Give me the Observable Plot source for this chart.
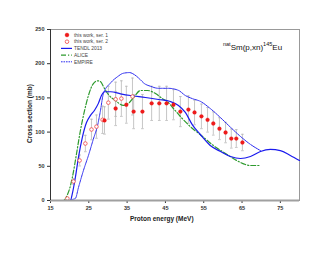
<!DOCTYPE html>
<html><head><meta charset="utf-8">
<script src="https://cdn.jsdelivr.net/npm/d3@7"></script>
<script src="https://cdn.jsdelivr.net/npm/@observablehq/plot@0.6"></script>
<style>
body{margin:0;background:#fff;font-family:"Liberation Sans",Arial,sans-serif;}
#wrap{position:relative;width:330px;height:255px;}
.lab{position:absolute;font-weight:bold;color:#222;white-space:nowrap;}
</style></head>
<body><div id="wrap"></div>
<script>
// Series 1 (filled)
const ser1E = [29.1,32.0,34.8,36.7,39.0,41.4,43.4,45.3,47.1,48.9,51.0,52.6,54.4,56.0,57.5,59.1,60.7,62.2,63.5,65.1];
const ser1S = [117,134.5,140,130,130,142,142,142,140,130,133,128.7,123,118,112.6,105,99.4,90.6,90.6,84.8];
const ser1Err = [20,25,27,25,25,25,25,25,22,22,20,18,18,18,17,16,15,14,13,12];
// Series 2 (open)
const ser2E = [19.4,21.0,22.6,24.1,25.7,27.0,28.6,30.1,32.0,33.5,36.4];
const ser2S = [3,27.8,58.5,83.3,103.8,108,118,143,148,149,152];
const ser2Err = [1,4,8,12,15,17,20,24,25,26,27];
// TENDL 2013
const tendlE = [15,18.1,20.2,20.7,21.5,22.3,23.3,24.4,25.4,26.5,27.5,28.3,29.1,30.7,33.3,35.9,39.8,43.2,46.3,48.4,50.2,52.0,54.1,56.7,59.4,62.0,64.6,67.2,69.8,72.4,75.0,77.6,80];
const tendlS = [0,0,0,10,34,63,92,114,124,132,142,153.5,159,159,156,153.5,150.6,147.7,144.7,139,128.7,111,96.5,80.4,71.6,64.3,61.4,64.3,71.6,74.6,73,65.8,58.5];
// ALICE
const aliceE = [15,18.4,19.2,20.0,20.7,21.8,22.8,23.9,24.9,26.2,27.3,28.0,29.1,30.1,32.0,34.0,35.3,36.7,38.5,40.3,42.4,44.2,45.5,47.1,48.9,51.5,54.7,57.5,60.7,62.7,64.6,65.9,67.2,69.8];
const aliceS = [0,0,6,17.5,33.6,68.7,102,131.6,153.5,171,175,174,163.7,155,146,139,141.8,150.6,160.8,160.8,156.4,149,144.7,134.5,122.8,108,93.6,80.4,68.7,61.4,55.6,52.6,51.2,51.2];
// EMPIRE
const empireE = [15,19.4,20.7,21.5,22.3,23.6,24.9,26.2,27.3,28.0,28.8,30.7,32.5,34.0,35.6,36.9,38.2,39.5,41.1,43.2,45.8,48.4,50.2,52.0,54.1,56.7,59.4,62.0,64.6,67.2,69.8];
const empireS = [0,0,1.5,3,19,43.9,65.8,90,110,130,156,172,181,186,187,184,178,171,167,164,164,161,153.5,149,145,134.5,121,107,93.6,82,73];
// ticks
const xTicks = [15,25,35,45,55,65,75];
const yTicks = [0,50,100,150,200,250];

const s1 = ser1E.map((e,i)=>({e, s:ser1S[i], d:ser1Err[i]}));
const s2 = ser2E.map((e,i)=>({e, s:ser2S[i], d:ser2Err[i]}));
const tendl = tendlE.map((e,i)=>({e, s:tendlS[i]}));
const alice = aliceE.map((e,i)=>({e, s:aliceS[i]}));
const empire = empireE.map((e,i)=>({e, s:empireS[i]}));
const allPts = s1.concat(s2);

const chart = Plot.plot({
  width: 330, height: 255,
  marginLeft: 50, marginRight: 31, marginTop: 29, marginBottom: 55,
  style: {fontFamily: "Liberation Sans, Arial, sans-serif", fontSize: "5.5px", fontWeight: "bold", color: "#333", background: "#fff"},
  x: {domain: [15, 80], ticks: xTicks, tickSize: 3, label: null, tickPadding: 3},
  y: {domain: [0, 250], ticks: yTicks, tickSize: 3, label: null, tickPadding: 3},
  marks: [
    Plot.frame({stroke: "#999", strokeWidth: 1}),
    Plot.ruleX(allPts, {x: "e", y1: d => d.s - d.d, y2: d => d.s + d.d, stroke: "#b8b8b8", strokeWidth: 0.8}),
    Plot.link(allPts, {x1: d => d.e - 0.35, x2: d => d.e + 0.35, y1: d => d.s - d.d, y2: d => d.s - d.d, stroke: "#b8b8b8", strokeWidth: 0.8}),
    Plot.link(allPts, {x1: d => d.e - 0.35, x2: d => d.e + 0.35, y1: d => d.s + d.d, y2: d => d.s + d.d, stroke: "#b8b8b8", strokeWidth: 0.8}),
    Plot.line(alice, {x: "e", y: "s", stroke: "#2e9a2e", strokeWidth: 1.2, strokeDasharray: "5,2,1.2,2", curve: "monotone-x"}),
    Plot.line(empire, {x: "e", y: "s", stroke: "#2a2af0", strokeWidth: 1, strokeDasharray: "1.6,0.9", curve: "monotone-x"}),
    Plot.line(tendl, {x: "e", y: "s", stroke: "#1a1aee", strokeWidth: 1.2, curve: "monotone-x"}),
    Plot.dot(s2, {x: "e", y: "s", r: 1.8, stroke: "#f04848", fill: "#fff", strokeWidth: 0.8}),
    Plot.dot(s1, {x: "e", y: "s", r: 1.9, fill: "#ee1a1a", stroke: "#ee1a1a", strokeWidth: 0.3}),
    Plot.ruleY([0], {stroke: "#a0a0a0", strokeWidth: 2}),
    Plot.ruleX([15], {stroke: "#333", strokeWidth: 1})
  ]
});
const wrap = document.getElementById("wrap");
wrap.appendChild(chart);

// legend
const ns = "http://www.w3.org/2000/svg";
const leg = document.createElementNS(ns, "svg");
leg.setAttribute("width", 70); leg.setAttribute("height", 40);
leg.style.position = "absolute"; leg.style.left = "58px"; leg.style.top = "30px";
const items = [
  {label: "this work, ser. 1", kind: "fill"},
  {label: "this work, ser. 2", kind: "open"},
  {label: "TENDL 2013", kind: "line", stroke: "#1a1aee", dash: null, w: 1.2},
  {label: "ALICE", kind: "line", stroke: "#2e9a2e", dash: "5,2,1.2,2", w: 1.2},
  {label: "EMPIRE", kind: "line", stroke: "#2a2af0", dash: "1.6,0.9", w: 1}
];
items.forEach((it, i) => {
  const y = 5 + i * 6.7;
  if (it.kind === "line") {
    const l = document.createElementNS(ns, "line");
    l.setAttribute("x1", 3); l.setAttribute("x2", 14); l.setAttribute("y1", y); l.setAttribute("y2", y);
    l.setAttribute("stroke", it.stroke); l.setAttribute("stroke-width", it.w);
    if (it.dash) l.setAttribute("stroke-dasharray", it.dash);
    leg.appendChild(l);
  } else {
    const c = document.createElementNS(ns, "circle");
    c.setAttribute("cx", 9); c.setAttribute("cy", y); c.setAttribute("r", 1.8);
    c.setAttribute("fill", it.kind === "fill" ? "#ee1a1a" : "#fff");
    c.setAttribute("stroke", it.kind === "fill" ? "#ee1a1a" : "#f04848");
    c.setAttribute("stroke-width", 0.8);
    leg.appendChild(c);
  }
  const t = document.createElementNS(ns, "text");
  t.setAttribute("x", 16); t.setAttribute("y", y); t.setAttribute("dy", "0.35em");
  t.setAttribute("font-size", "4.9px"); t.setAttribute("font-family", "Liberation Sans, Arial, sans-serif");
  t.setAttribute("fill", "#444");
  t.textContent = it.label;
  leg.appendChild(t);
});
wrap.appendChild(leg);

function addLabel(html, css) {
  const d = document.createElement("div");
  d.className = "lab"; d.innerHTML = html;
  Object.assign(d.style, css);
  wrap.appendChild(d);
  return d;
}
addLabel("<sup style='font-size:5.5px'>nat</sup>Sm(p,xn)<sup style='font-size:5.5px'>145</sup>Eu", {left: "223px", top: "41px", fontSize: "8px", fontWeight: "normal", color: "#111"});
addLabel("Proton energy (MeV)", {left: "130px", top: "215px", fontSize: "6.5px"});
addLabel("Cross section (mb)", {left: "0px", top: "110px", fontSize: "6.5px", transform: "rotate(-90deg)", transformOrigin: "center"});
</script>
</body></html>
